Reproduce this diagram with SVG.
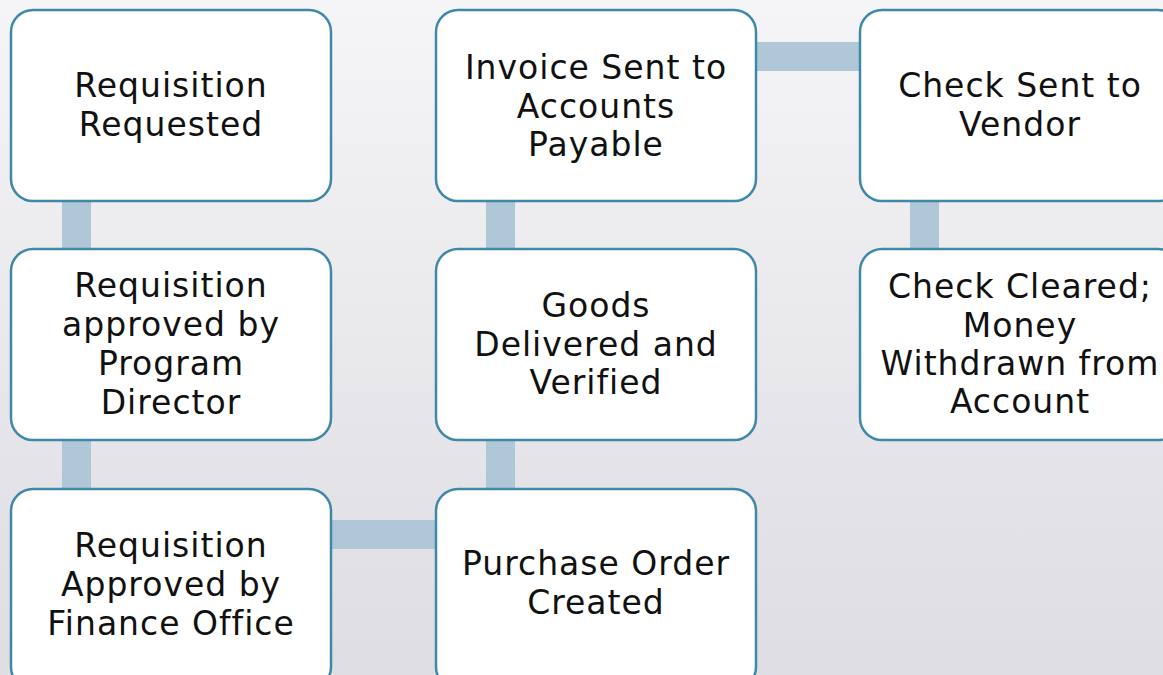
<svg xmlns="http://www.w3.org/2000/svg" width="1163" height="675" viewBox="0 0 1163 675">
<defs>
<linearGradient id="bg" x1="0" y1="0" x2="0" y2="1">
<stop offset="0" stop-color="#f5f5f7"/>
<stop offset="1" stop-color="#dddde2"/>
</linearGradient>
<style>
.box{fill:#ffffff;stroke:#3f88a8;stroke-width:2.5}
.con{fill:#afc7d7}
text{font-family:"DejaVu Sans","Liberation Sans",sans-serif;font-size:33px;letter-spacing:1px;fill:#111111;text-anchor:middle}
</style>
</defs>
<rect width="1163" height="675" fill="url(#bg)"/>
<g id="connectors">
<rect class="con" x="62" y="200" width="29" height="50"/>
<rect class="con" x="62" y="439" width="29" height="51"/>
<rect class="con" x="330" y="520" width="107" height="29"/>
<rect class="con" x="486" y="439" width="29" height="51"/>
<rect class="con" x="486" y="200" width="29" height="50"/>
<rect class="con" x="755" y="42" width="106" height="29"/>
<rect class="con" x="910" y="200" width="29" height="50"/>
</g>
<g id="n1"><rect class="box" x="11" y="10" width="320" height="191" rx="22"/>
<text x="171" y="97">Requisition</text><text x="171" y="136">Requested</text></g>
<g id="n2"><rect class="box" x="11" y="249" width="320" height="191" rx="22"/>
<text x="171" y="297">Requisition</text><text x="171" y="336">approved by</text><text x="171" y="375">Program</text><text x="171" y="414">Director</text></g>
<g id="n3"><rect class="box" x="11" y="489" width="320" height="200" rx="22"/>
<text x="171" y="557">Requisition</text><text x="171" y="596">Approved by</text><text x="171" y="635">Finance Office</text></g>
<g id="n4"><rect class="box" x="436" y="489" width="320" height="200" rx="22"/>
<text x="596" y="575">Purchase Order</text><text x="596" y="614">Created</text></g>
<g id="n5"><rect class="box" x="436" y="249" width="320" height="191" rx="22"/>
<text x="596" y="317">Goods</text><text x="596" y="356">Delivered and</text><text x="596" y="394">Verified</text></g>
<g id="n6"><rect class="box" x="436" y="10" width="320" height="191" rx="22"/>
<text x="596" y="79">Invoice Sent to</text><text x="596" y="118">Accounts</text><text x="596" y="156">Payable</text></g>
<g id="n7"><rect class="box" x="860" y="10" width="320" height="191" rx="22"/>
<text x="1020" y="97">Check Sent to</text><text x="1020" y="136">Vendor</text></g>
<g id="n8"><rect class="box" x="860" y="249" width="320" height="191" rx="22"/>
<text x="1020" y="298">Check Cleared;</text><text x="1020" y="337">Money</text><text x="1020" y="375">Withdrawn from</text><text x="1020" y="413">Account</text></g>
</svg>
